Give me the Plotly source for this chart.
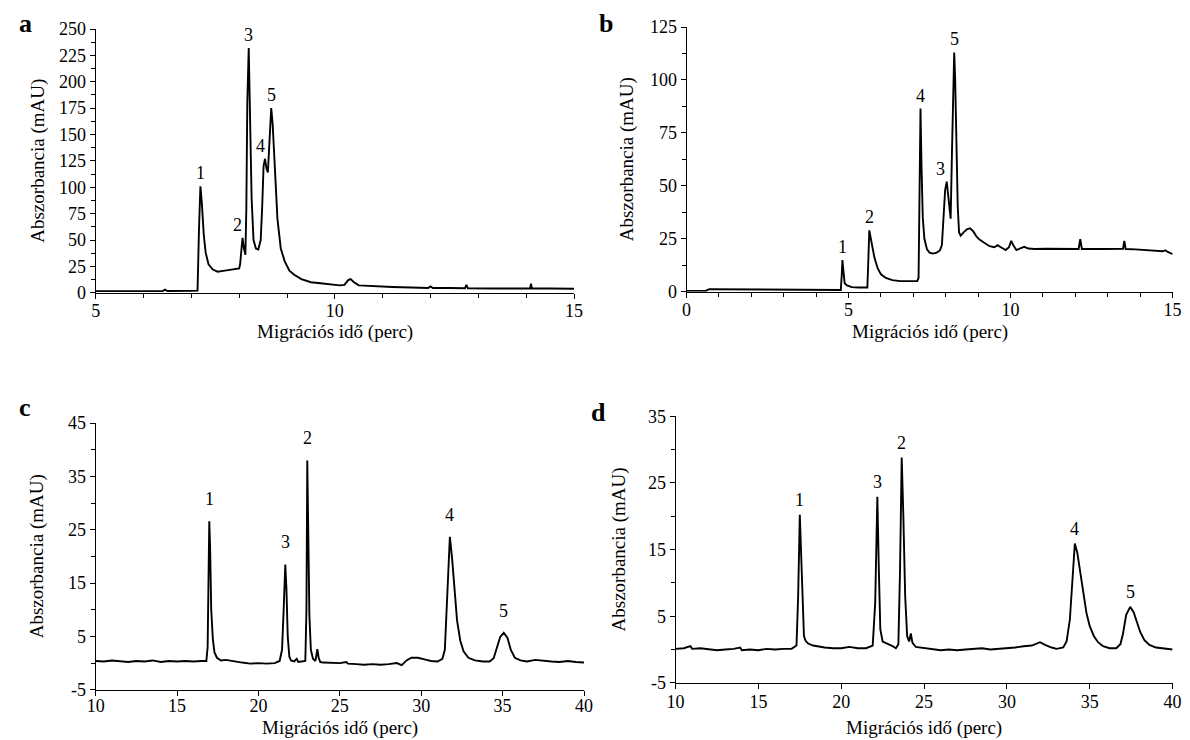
import numpy as np
import plotly.graph_objects as go

# ---------------- data ----------------
a_t = [5.0, 6.0, 6.4, 6.45, 6.5, 7.0, 7.13, 7.16, 7.19, 7.22, 7.26, 7.3, 7.36, 7.45, 7.55, 7.7, 7.85, 8.0,
       8.02, 8.05, 8.07, 8.1, 8.13, 8.15, 8.17, 8.2, 8.23, 8.26, 8.3, 8.35, 8.4, 8.45, 8.48, 8.51, 8.54, 8.57,
       8.6, 8.63, 8.67, 8.7, 8.74, 8.8, 8.87, 8.95, 9.05, 9.15, 9.3, 9.5, 9.7, 9.9, 10.1, 10.2, 10.28, 10.33,
       10.4, 10.5, 10.7, 10.9, 11.2, 11.6, 11.95, 12.0, 12.05, 12.4, 12.72, 12.75, 12.78, 13.3, 14.08, 14.1,
       14.12, 14.5, 15.0]
a_v = [1.5, 1.5, 1.7, 3.0, 1.7, 1.8, 2.0, 60, 101, 85, 55, 38, 27, 22, 20, 21, 22, 23,
       27, 45, 52, 42, 36, 80, 180, 232, 170, 90, 50, 42, 41, 50, 80, 120, 127, 118,
       114, 140, 175, 160, 120, 70, 42, 30, 21, 17, 13, 10, 9, 8, 7, 7.5, 12, 13,
       10, 7, 6.5, 6, 5.5, 5, 4.5, 6, 4.5, 4.5, 4.3, 7.5, 4.3, 4, 4, 8.5,
       4, 4, 3.8]

b_t = [0.0, 0.6, 0.7, 1.5, 2.0, 2.7, 2.8, 3.5, 4.0, 4.5, 4.76, 4.79, 4.81, 4.84, 4.88, 4.95, 5.1, 5.3,
       5.58, 5.61, 5.64, 5.7, 5.8, 5.9, 6.0, 6.15, 6.35, 6.6, 6.9, 7.12, 7.16, 7.19, 7.22, 7.25, 7.29, 7.34,
       7.42, 7.5, 7.6, 7.72, 7.82, 7.88, 7.93, 7.98, 8.03, 8.07, 8.12, 8.15, 8.19, 8.23, 8.26, 8.29, 8.33,
       8.37, 8.41, 8.46, 8.55, 8.65, 8.75, 8.85, 8.95, 9.05, 9.2, 9.35, 9.5, 9.6, 9.7, 9.85, 9.95, 10.02,
       10.08, 10.18, 10.3, 10.42, 10.55, 10.75, 11.1, 11.5, 12.1, 12.15, 12.2, 12.8, 13.3, 13.47, 13.51,
       13.55, 13.85, 14.3, 14.7, 14.78, 14.85, 15.0]
b_v = [0.4, 0.5, 1.2, 1.1, 1.2, 1.0, 0.8, 0.7, 0.7, 0.8, 0.8, 8, 15, 10, 4, 3, 2.2, 2.0,
       2.0, 15, 29, 24, 16, 11, 8.2, 6.5, 5.5, 5.0, 5.0, 5.0, 6.5, 50, 86.5, 60, 35, 25,
       20, 18.5, 18, 18.5, 19.5, 22, 35, 48, 52, 47, 38, 34.5, 65, 105, 113, 100, 70,
       40, 28, 26.5, 28, 29.5, 30, 28.5, 26, 24.5, 23, 21.5, 21, 22, 21, 19.7, 21, 24,
       22, 19.7, 20.5, 21.2, 20.4, 20.2, 20.3, 20.2, 20.2, 24.8, 20.2, 20.2, 20.2, 20.3, 24,
       20.2, 20.0, 19.6, 19.1, 19.6, 18.8, 17.8]

c_t = [10.0, 10.5, 11.0, 11.5, 12.0, 12.5, 13.0, 13.5, 14.0, 14.5, 15.0, 15.5, 16.0, 16.5, 16.8, 16.88,
       16.94, 16.98, 17.03, 17.1, 17.2, 17.3, 17.45, 17.7, 18.0, 18.5, 19.0, 19.5, 20.0, 20.5, 21.0, 21.3,
       21.45, 21.55, 21.65, 21.72, 21.8, 21.9, 22.0, 22.2, 22.35, 22.45, 22.7, 22.88, 22.95, 23.0, 23.06,
       23.13, 23.22, 23.35, 23.5, 23.62, 23.7, 23.8, 24.0, 24.5, 25.0, 25.4, 25.5, 26.0, 26.5, 27.0, 27.5,
       28.0, 28.5, 28.8, 29.1, 29.4, 29.8, 30.2, 30.6, 31.0, 31.3, 31.45, 31.6, 31.76, 31.9, 32.05, 32.2,
       32.4, 32.6, 32.9, 33.3, 33.8, 34.2, 34.45, 34.65, 34.85, 35.07, 35.3, 35.5, 35.75, 36.1, 36.5, 37.0,
       37.5, 38.0, 38.5, 39.0, 39.5, 40.0]
c_v = [0.4, 0.3, 0.5, 0.4, 0.2, 0.4, 0.3, 0.5, 0.2, 0.4, 0.3, 0.4, 0.3, 0.4, 0.4, 3,
       18, 26.6, 22, 10, 4.5, 2, 1.0, 0.5, 0.6, 0.3, 0.1, -0.1, 0.0, -0.1, 0.0, 0.4,
       2.5, 10, 18.5, 14, 5, 1.2, 0.5, 0.3, 0.8, 0.2, 0.3, 0.4, 10, 38, 25,
       9, 2.5, 0.8, 0.4, 2.6, 1.0, 0.2, 0.1, 0.0, 0.0, 0.2, -0.1, -0.2, -0.3, -0.2, -0.3,
       -0.2, 0.0, -0.4, 0.5, 1.0, 1.0, 0.7, 0.4, 0.3, 0.8, 2.5, 14, 23.7, 19.5, 13, 8,
       4.2, 2.2, 1.0, 0.5, 0.3, 0.3, 0.9, 2.8, 4.9, 5.7, 4.7, 2.5, 1.0, 0.5, 0.3, 0.6,
       0.4, 0.3, 0.2, 0.4, 0.2, 0.1]

d_t = [10.0, 10.5, 10.9, 11.0, 11.5, 12.0, 12.5, 13.0, 13.5, 13.9, 14.0, 14.5, 15.0, 15.5, 16.0, 16.5,
       17.0, 17.3, 17.4, 17.5, 17.58, 17.66, 17.75, 17.85, 18.0, 18.3, 18.7, 19.0, 19.5, 20.0, 20.5, 21.0,
       21.5, 21.9, 22.05, 22.18, 22.27, 22.36, 22.5, 22.8, 23.1, 23.3, 23.45, 23.55, 23.65, 23.75, 23.86,
       23.98, 24.1, 24.2, 24.3, 24.5, 25.0, 25.5, 26.0, 26.5, 27.0, 27.5, 28.0, 28.5, 29.0, 29.5, 30.0,
       30.5, 31.0, 31.5, 32.0, 32.3, 32.7, 33.0, 33.4, 33.6, 33.8, 33.95, 34.1, 34.25, 34.45, 34.6, 34.8,
       35.0, 35.25, 35.5, 35.8, 36.2, 36.6, 36.85, 37.0, 37.2, 37.44, 37.65, 37.85, 38.05, 38.3, 38.6,
       39.0, 39.5, 40.0]
d_v = [0.1, 0.2, 0.5, 0.1, 0.2, 0.0, -0.1, 0.0, 0.1, 0.3, -0.1, 0.0, -0.1, 0.1, 0.0, 0.1,
       0.1, 0.6, 8, 20.2, 14, 6, 2.0, 1.3, 0.9, 0.6, 0.4, 0.3, 0.2, 0.2, 0.4, 0.2,
       0.2, 0.6, 7, 22.9, 12, 3, 1.2, 0.9, 0.5, 0.2, 0.8, 12, 28.8, 20, 8,
       2, 1.2, 2.4, 1.0, 0.4, 0.2, 0.0, -0.1, 0.0, -0.1, 0.0, 0.1, 0.2, 0.0, 0.1, 0.1,
       0.3, 0.5, 0.6, 1.1, 0.7, 0.3, 0.1, 0.3, 1.2, 4.5, 11, 15.9, 14.5, 11, 8.5, 5.5,
       3.5, 2.0, 1.1, 0.5, 0.2, 0.2, 0.8, 2.3, 5.2, 6.4, 5.6, 4.0, 2.6, 1.4, 0.7,
       0.3, 0.2, 0.0]

# peak numbering labels
a_lab = ["1", "2", "3", "4", "5"]
a_lab_t = [7.19, 8.07, 8.2, 8.54, 8.67]
b_lab = ["1", "2", "4", "3", "5"]
b_lab_t = [4.81, 5.64, 7.22, 8.03, 8.26]
c_lab = ["1", "3", "2", "4", "5"]
c_lab_t = [16.98, 21.65, 23.0, 31.76, 35.07]
d_lab = ["1", "3", "2", "4", "5"]
d_lab_t = [17.5, 22.18, 23.65, 34.1, 37.44]

x_title = "Migrációs idő (perc)"
y_title = "Abszorbancia (mAU)"
panel_letters = ["a", "b", "c", "d"]

# ---------------- figure ----------------
FONT = "Liberation Serif"
TICK = dict(family=FONT, size=18, color="black")
TITLE = dict(family=FONT, size=19, color="black")
fig = go.Figure()

panels = [
    dict(t=a_t, v=a_v, lab=a_lab, lt=a_lab_t, xr=[5, 15], yr=[0, 250],
         xd=[0.0671, 0.4753], yd=[0.6184, 0.9847], xmaj=5, xmin=1, ymaj=25, ymin=12.5,
         lshift=[0, -5, 0, -5, 0], lys=1, ytx=0.0178, xty=0.5642, xtanchor="middle", xts=0, tls=-3),
    dict(t=b_t, v=b_v, lab=b_lab, lt=b_lab_t, xr=[0, 15], yr=[0, 125],
         xd=[0.5713, 0.9860], yd=[0.6198, 0.9875], xmaj=5, xmin=1, ymaj=25, ymin=12.5,
         lshift=[0, 0, 0, -6, 0], lys=1, ytx=0.5212, xty=0.5642, xtanchor="middle", xts=0, tls=-3),
    dict(t=c_t, v=c_v, lab=c_lab, lt=c_lab_t, xr=[10, 40], yr=[-5, 45],
         xd=[0.0671, 0.4838], yd=[0.0670, 0.4373], xmaj=5, xmin=None, ymaj=10, ymin=5,
         lshift=[0, 0, 0, 0, 0], lys=10, ytx=0.0178, xty=0.0, xtanchor="bottom", xts=-3, tls=-5),
    dict(t=d_t, v=d_v, lab=d_lab, lt=d_lab_t, xr=[10, 40], yr=[-5, 35],
         xd=[0.5619, 0.9860], yd=[0.0766, 0.4469], xmaj=5, xmin=None, ymaj=10, ymin=5,
         lshift=[0, 0, 0, 0, 0], lys=3, ytx=0.5136, xty=0.0, xtanchor="bottom", xts=-3, tls=-2),
]

annotations = []
for i, p in enumerate(panels):
    n = "" if i == 0 else str(i + 1)
    xa, ya = "x" + n, "y" + n
    fig.add_trace(go.Scatter(x=p["t"], y=p["v"], mode="lines", xaxis=xa, yaxis=ya,
                             line=dict(color="black", width=1.9), showlegend=False,
                             hoverinfo="skip"))
    t_arr = np.array(p["t"]); v_arr = np.array(p["v"])
    for lab, lt, xs in zip(p["lab"], p["lt"], p["lshift"]):
        m = np.abs(t_arr - lt) < 0.06
        ytop = v_arr[m].max()
        annotations.append(dict(x=lt, y=ytop, xref=xa, yref=ya, text=lab, showarrow=False,
                                yanchor="bottom", xshift=xs, yshift=p["lys"],
                                font=dict(family=FONT, size=18, color="black")))
    yticks = list(np.arange(p["yr"][0], p["yr"][1] + 0.01, p["ymaj"]))
    ytext = ["%g" % v for v in yticks]
    xaxis = dict(domain=p["xd"], range=p["xr"], anchor=ya, showline=True, linecolor="black",
                 linewidth=1, ticks="outside", ticklen=5, tickcolor="black", tickwidth=1,
                 showgrid=False, zeroline=False, dtick=p["xmaj"], tick0=p["xr"][0],
                 tickfont=TICK, ticklabelstandoff=p["tls"])
    if p["xmin"]:
        xaxis["minor"] = dict(dtick=p["xmin"], tick0=p["xr"][0], ticks="outside", ticklen=4,
                              tickcolor="black", tickwidth=1, showgrid=False)
    yaxis = dict(domain=p["yd"], range=p["yr"], anchor=xa, showline=True, linecolor="black",
                 linewidth=1, ticks="outside", ticklen=5, tickcolor="black", tickwidth=1,
                 showgrid=False, zeroline=False, tickmode="array", tickvals=yticks, ticktext=ytext,
                 tickfont=TICK,
                 minor=dict(tickmode="array",
                            tickvals=list(np.arange(p["yr"][0], p["yr"][1] + 0.01, p["ymin"])),
                            ticks="outside", ticklen=4, tickcolor="black", tickwidth=1, showgrid=False))
    fig.layout["xaxis" + n] = xaxis
    fig.layout["yaxis" + n] = yaxis
    # axis titles
    annotations.append(dict(x=p["ytx"], y=sum(p["yd"]) / 2, xref="paper", yref="paper",
                            text=y_title, textangle=-90, showarrow=False,
                            xanchor="center", yanchor="middle", font=TITLE))
    annotations.append(dict(x=sum(p["xd"]) / 2, y=p["xty"], xref="paper", yref="paper",
                            text=x_title, showarrow=False, xanchor="center", yshift=p["xts"],
                            yanchor=p["xtanchor"], font=TITLE))

letter_pos = [(0.0, 0.992), (0.495, 0.992), (0.0, 0.459), (0.4877, 0.452)]
for L, (px, py) in zip(panel_letters, letter_pos):
    annotations.append(dict(x=px, y=py, xref="paper", yref="paper", text="<b>%s</b>" % L,
                            showarrow=False, xanchor="left", yanchor="middle",
                            font=dict(family=FONT, size=26, color="black")))

fig.update_layout(width=1190, height=740, margin=dict(l=0, r=0, t=0, b=0),
                  paper_bgcolor="white", plot_bgcolor="white", annotations=annotations,
                  font=dict(family=FONT, color="black"))

fig.write_html("out.html")
